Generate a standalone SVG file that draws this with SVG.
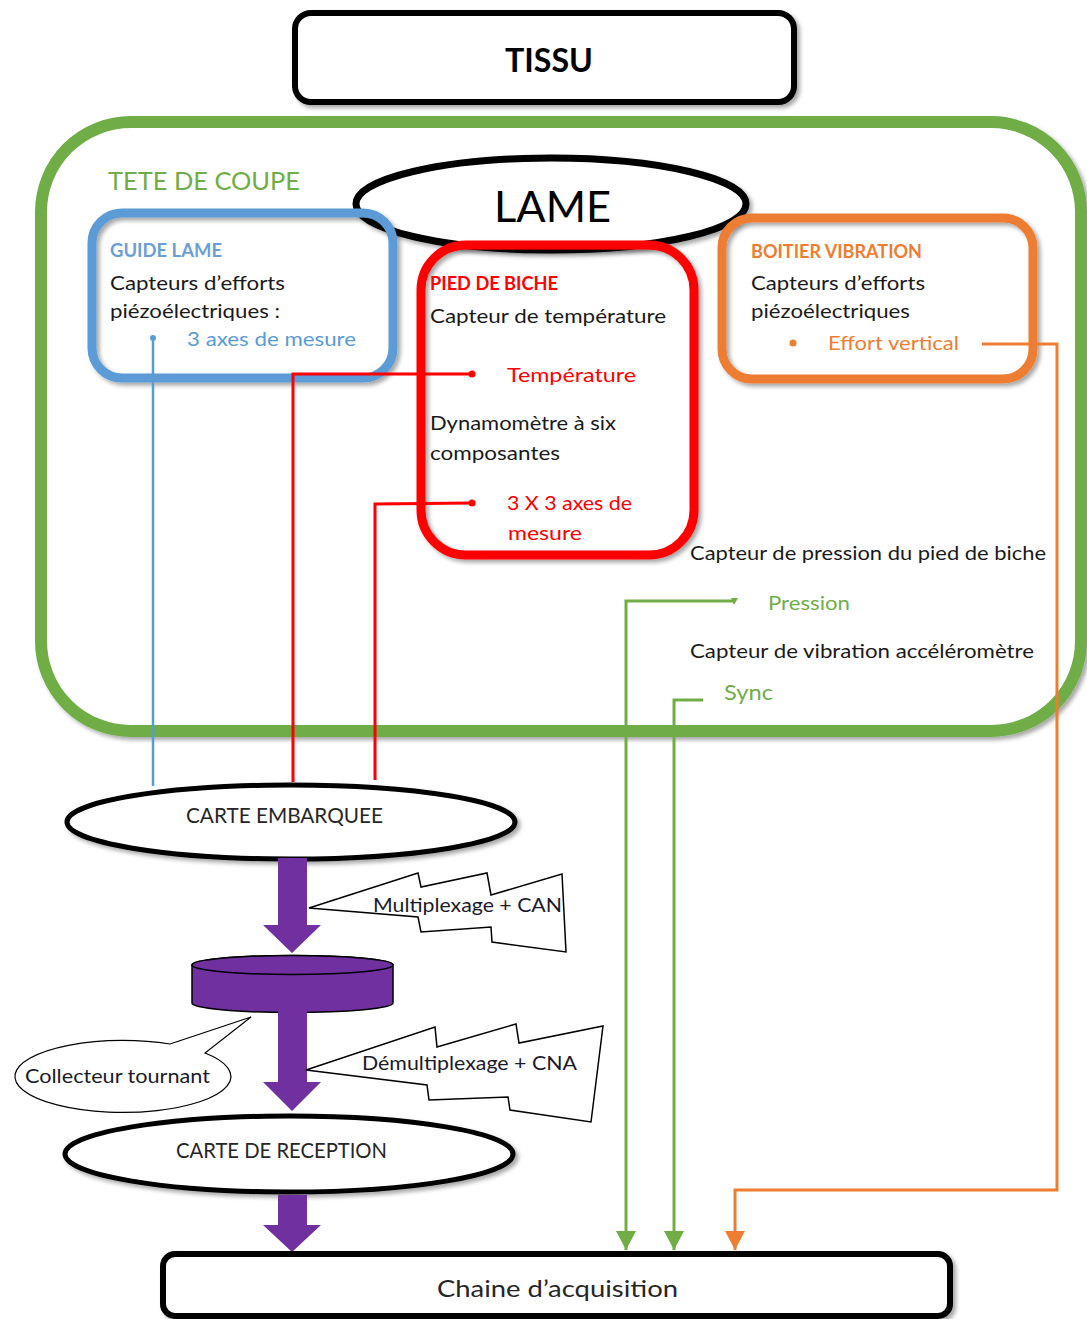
<svg xmlns="http://www.w3.org/2000/svg" width="1087" height="1319" viewBox="0 0 1087 1319">
<defs>
<filter id="sh" x="-10%" y="-10%" width="130%" height="130%">
<feDropShadow dx="3" dy="3" stdDeviation="2" flood-color="#000" flood-opacity="0.35"/>
</filter>
<marker id="ag" markerUnits="userSpaceOnUse" markerWidth="20" markerHeight="22" viewBox="0 0 20 22" refX="19" refY="11" orient="auto">
<path d="M0,1 L19,11 L0,21 Z" fill="#70AD47"/>
</marker>
<marker id="ao" markerUnits="userSpaceOnUse" markerWidth="20" markerHeight="22" viewBox="0 0 20 22" refX="19" refY="11" orient="auto">
<path d="M0,1 L19,11 L0,21 Z" fill="#ED7D31"/>
</marker>
</defs>
<style>
text{font-family:Lato,"Liberation Sans",sans-serif;}
.t{font-size:20px;fill:#1a1a1a;}
.h{font-size:18px;font-weight:bold;}
.box{fill:none;stroke-width:9;filter:url(#sh);}
.blk{fill:#fff;stroke:#000;stroke-width:6;filter:url(#sh);}
.ell{fill:#fff;stroke:#000;stroke-width:5;filter:url(#sh);}
.pur{fill:#7030A0;}
.bolt{fill:#fff;stroke:#000;stroke-width:1.5;}
.dark{fill:#262626;}
</style>

<g id="tissu">
<rect class="blk" x="295" y="13" width="499" height="89" rx="16"/>
<text x="505" y="72" font-size="32" font-weight="bold" textLength="88" lengthAdjust="spacingAndGlyphs" fill="#000">TISSU</text>
</g>

<g id="tete-de-coupe">
<rect x="41" y="122" width="1040" height="609" rx="90" fill="#fff" stroke="#70AD47" stroke-width="12" filter="url(#sh)"/>
<text x="108" y="190" font-size="25" fill="#70AD47" textLength="192" lengthAdjust="spacingAndGlyphs">TETE DE COUPE</text>
</g>

<g id="lame">
<ellipse cx="551" cy="204" rx="195" ry="46" fill="#fff" stroke="#000" stroke-width="7" filter="url(#sh)"/>
<text x="494" y="222" font-size="42" fill="#000" textLength="117" lengthAdjust="spacingAndGlyphs">LAME</text>
</g>

<g id="guide-lame">
<rect class="box" x="92" y="213" width="301" height="165" rx="30" stroke="#5B9BD5"/>
<text class="h" x="110" y="257" fill="#6A9FD6" textLength="112" lengthAdjust="spacingAndGlyphs">GUIDE LAME</text>
<text class="t" x="110" y="290" textLength="175" lengthAdjust="spacingAndGlyphs">Capteurs d’efforts</text>
<text class="t" x="110" y="318" textLength="170" lengthAdjust="spacingAndGlyphs">piézoélectriques :</text>
<text class="t" x="187" y="346" style="fill:#5B9BD5" textLength="169" lengthAdjust="spacingAndGlyphs">3 axes de mesure</text>
</g>

<g id="pied-de-biche">
<rect class="box" x="421" y="245" width="273" height="310" rx="45" stroke="#FF0000"/>
<text class="h" x="430" y="290" fill="#FF0000" textLength="128" lengthAdjust="spacingAndGlyphs">PIED DE BICHE</text>
<text class="t" x="430" y="323" textLength="236" lengthAdjust="spacingAndGlyphs">Capteur de température</text>
<text class="t" x="507" y="382" style="fill:#FF0000" textLength="129" lengthAdjust="spacingAndGlyphs">Température</text>
<text class="t" x="430" y="430" textLength="186" lengthAdjust="spacingAndGlyphs">Dynamomètre à six</text>
<text class="t" x="430" y="460" textLength="130" lengthAdjust="spacingAndGlyphs">composantes</text>
<text class="t" x="507" y="510" style="fill:#FF0000" textLength="125" lengthAdjust="spacingAndGlyphs">3 X 3 axes de</text>
<text class="t" x="508" y="540" style="fill:#FF0000" textLength="74" lengthAdjust="spacingAndGlyphs">mesure</text>
</g>

<g id="boitier-vibration">
<rect class="box" x="722" y="218" width="311" height="161" rx="30" stroke="#ED7D31"/>
<text class="h" x="751" y="258" fill="#ED7D31" textLength="171" lengthAdjust="spacingAndGlyphs">BOITIER VIBRATION</text>
<text class="t" x="751" y="290" textLength="174" lengthAdjust="spacingAndGlyphs">Capteurs d’efforts</text>
<text class="t" x="751" y="318" textLength="159" lengthAdjust="spacingAndGlyphs">piézoélectriques</text>
<circle cx="793" cy="343" r="3.5" fill="#ED7D31"/>
<text class="t" x="828" y="350" style="fill:#ED7D31" textLength="131" lengthAdjust="spacingAndGlyphs">Effort vertical</text>
</g>

<g id="capteurs-pression-vibration">
<text class="t" x="690" y="560" textLength="356" lengthAdjust="spacingAndGlyphs">Capteur de pression du pied de biche</text>
<text class="t" x="768" y="610" style="fill:#70AD47" textLength="82" lengthAdjust="spacingAndGlyphs">Pression</text>
<text class="t" x="690" y="658" textLength="344" lengthAdjust="spacingAndGlyphs">Capteur de vibration accéléromètre</text>
<text class="t" x="724" y="700" style="fill:#70AD47;font-size:22px" textLength="49" lengthAdjust="spacingAndGlyphs">Sync</text>
</g>

<g id="connectors" fill="none">
<circle cx="153" cy="338" r="3" fill="#5B9BD5"/>
<path d="M153,338 L153,786" stroke="#5B9BD5" stroke-width="2.5"/>
<circle cx="472" cy="374" r="3.5" fill="#FF0000"/>
<path d="M472,374 L293,374 L293,782" stroke="#FF0000" stroke-width="3"/>
<circle cx="472" cy="503" r="3.5" fill="#FF0000"/>
<path d="M472,503 L375,504 L375,780" stroke="#FF0000" stroke-width="3"/>
<path d="M982,344 L1057,344 L1057,1190 L735,1190 L735,1250" stroke="#ED7D31" stroke-width="3" marker-end="url(#ao)"/>
<path d="M735,601 L626,601 L626,1250" stroke="#70AD47" stroke-width="3" marker-end="url(#ag)"/>
<path d="M731,598 L738,598 L734,605 Z" fill="#70AD47"/>
<path d="M703,700 L674,700 L674,1250" stroke="#70AD47" stroke-width="3" marker-end="url(#ag)"/>
</g>

<g id="carte-embarquee">
<ellipse class="ell" cx="291" cy="822" rx="224" ry="37"/>
<text x="186" y="823" font-size="21" class="dark" textLength="197" lengthAdjust="spacingAndGlyphs">CARTE EMBARQUEE</text>
</g>

<g id="fleche-1">
<path class="pur" d="M278,858 L307,858 L307,925 L321,925 L292,953 L263,925 L278,925 Z"/>
</g>

<g id="multiplexage">
<path class="bolt" d="M309,908 L418,873 L421,887 L487,873 L491,895 L562,874 L566,952 L492,942 L491,927 L421,932 L418,917 Z"/>
<text x="373" y="912" font-size="20" fill="#1a1a2a" textLength="189" lengthAdjust="spacingAndGlyphs">Multiplexage + CAN</text>
</g>

<g id="collecteur-tournant-cylindre">
<path class="pur" stroke="#000" stroke-width="1.5" d="M192,965 L192,1003 A100.5,9.5 0 0 0 393,1003 L393,965 A100.5,9.5 0 0 0 192,965 Z"/>
<ellipse cx="292.5" cy="965" rx="100.5" ry="9.5" fill="#7030A0" stroke="#000" stroke-width="1.5"/>
</g>

<g id="fleche-2">
<path class="pur" d="M278,1011 L307,1011 L307,1082 L321,1082 L292,1111 L263,1082 L278,1082 Z"/>
</g>

<g id="demultiplexage">
<path class="bolt" d="M306,1070 L435,1027 L437,1047 L516,1024 L519,1043 L603,1026 L591,1122 L510,1110 L508,1097 L429,1100 L427,1085 Z"/>
<text x="362" y="1070" font-size="20" fill="#1a1a2a" textLength="215" lengthAdjust="spacingAndGlyphs">Démultiplexage + CNA</text>
</g>

<g id="collecteur-tournant">
<path d="M170,1044 L251,1017 L205,1053 A108,36 0 1 1 170,1044 Z" fill="#fff" stroke="#000" stroke-width="1.2"/>
<text x="25" y="1083" font-size="20" fill="#1a1a2a" textLength="185" lengthAdjust="spacingAndGlyphs">Collecteur tournant</text>
</g>

<g id="carte-de-reception">
<ellipse class="ell" cx="289" cy="1154" rx="224" ry="38"/>
<text x="176" y="1158" font-size="21" class="dark" textLength="211" lengthAdjust="spacingAndGlyphs">CARTE DE RECEPTION</text>
</g>

<g id="fleche-3">
<path class="pur" d="M278,1195 L307,1195 L307,1225 L321,1225 L292,1252 L263,1225 L278,1225 Z"/>
</g>

<g id="chaine-acquisition">
<rect class="blk" x="163" y="1254" width="787" height="62" rx="12"/>
<text x="437" y="1297" font-size="24" class="dark" textLength="241" lengthAdjust="spacingAndGlyphs">Chaine d’acquisition</text>
</g>
</svg>
